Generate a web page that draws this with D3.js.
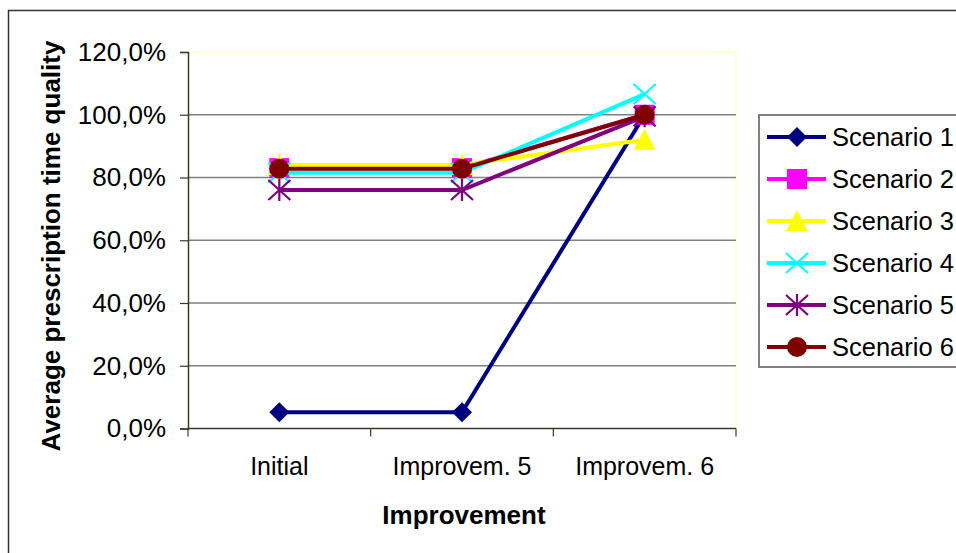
<!DOCTYPE html>
<html>
<head>
<meta charset="utf-8">
<script src="https://cdn.jsdelivr.net/npm/d3@7"></script>
<style>
  html, body { margin: 0; padding: 0; background: #fff; }
  svg { display: block; }
  text { font-family: "Liberation Sans", Arial, sans-serif; fill: #000; }
</style>
</head>
<body>
<svg id="chart" width="956" height="553"></svg>
<script>
// Categories along the x axis
const categories = ["Initial", "Improvem. 5", "Improvem. 6"];

// Series names and values (fractions, shown as percentages)
const seriesNames = ["Scenario 1", "Scenario 2", "Scenario 3", "Scenario 4", "Scenario 5", "Scenario 6"];
const scenario1 = [0.052, 0.052, 1.000];
const scenario2 = [0.830, 0.830, 1.000];
const scenario3 = [0.840, 0.840, 0.920];
const scenario4 = [0.815, 0.815, 1.066];
const scenario5 = [0.760, 0.760, 0.995];
const scenario6 = [0.828, 0.828, 1.000];
const seriesValues = [scenario1, scenario2, scenario3, scenario4, scenario5, scenario6];

// Y axis tick values
const yTicks = [0, 0.2, 0.4, 0.6, 0.8, 1.0, 1.2];

// Axis titles
const xTitle = "Improvement";
const yTitle = "Average prescription time quality";

// Series styling
const colors = ["#000080", "#ff00ff", "#ffff00", "#00ffff", "#800080", "#800000"];
const markers = ["diamond", "square", "triangle", "x", "star", "circle"];

const svg = d3.select("#chart");

// Outer chart frame
svg.append("rect")
  .attr("x", 8.5).attr("y", 10.5)
  .attr("width", 1000).attr("height", 600)
  .attr("fill", "#fff")
  .attr("stroke", "#333").attr("stroke-width", 1.5);

const plot = { left: 188, right: 736, top: 52, bottom: 428.5 };

const x = d3.scaleBand().domain(categories).range([plot.left, plot.right]).paddingInner(0).paddingOuter(0);
const y = d3.scaleLinear().domain([0, 1.2]).range([plot.bottom, plot.top]);

const locale = d3.formatLocale({ decimal: ",", thousands: ".", grouping: [3], currency: ["", " €"] });
const pct = locale.format(".1%");

// Plot area border (top and right edges are pale)
svg.append("path")
  .attr("d", `M${plot.left},${plot.top}H${plot.right}V${plot.bottom}`)
  .attr("fill", "none").attr("stroke", "#ffffc0").attr("stroke-width", 1.5);

// Horizontal gridlines
svg.append("g")
  .selectAll("line")
  .data(yTicks.filter(t => t > 0 && t < 1.2))
  .join("line")
  .attr("x1", plot.left).attr("x2", plot.right)
  .attr("y1", d => y(d)).attr("y2", d => y(d))
  .attr("stroke", "#808080").attr("stroke-width", 1.5);

// Y axis
const yAxis = svg.append("g")
  .attr("transform", `translate(${plot.left},0)`)
  .call(d3.axisLeft(y).tickValues(yTicks).tickFormat(pct).tickSize(8).tickPadding(14));
yAxis.select(".domain").attr("stroke", "#3a3a28").attr("stroke-width", 1.5);
yAxis.selectAll(".tick line").attr("stroke", "#3a3a28").attr("stroke-width", 1.2);
yAxis.selectAll(".tick text")
  .attr("font-size", 26).attr("font-family", "Liberation Sans, Arial, sans-serif").attr("fill", "#000");

// X axis: ticks at the category boundaries
const xAxis = svg.append("g")
  .attr("transform", `translate(0,${plot.bottom})`);
xAxis.append("line")
  .attr("x1", plot.left).attr("x2", plot.right)
  .attr("stroke", "#3a3a28").attr("stroke-width", 1.5);
const edges = categories.map(c => x(c)).concat([x(categories[categories.length - 1]) + x.bandwidth()]);
xAxis.selectAll("line.tick")
  .data(edges)
  .join("line").attr("class", "tick")
  .attr("x1", d => d).attr("x2", d => d)
  .attr("y1", 0).attr("y2", 8)
  .attr("stroke", "#3a3a28").attr("stroke-width", 1.2);
xAxis.selectAll("text")
  .data(categories)
  .join("text")
  .attr("x", d => x(d) + x.bandwidth() / 2)
  .attr("y", 46)
  .attr("text-anchor", "middle")
  .attr("font-size", 25)
  .text(d => d);

// Axis titles
svg.append("text")
  .attr("x", (plot.left + plot.right) / 2 + 2)
  .attr("y", 524)
  .attr("text-anchor", "middle")
  .attr("font-size", 26).attr("font-weight", "bold")
  .text(xTitle);

svg.append("text")
  .attr("transform", `translate(60,246) rotate(-90)`)
  .attr("text-anchor", "middle")
  .attr("font-size", 26).attr("font-weight", "bold")
  .text(yTitle);

// Marker drawing
function drawMarker(g, type, color) {
  switch (type) {
    case "diamond":
      g.append("path").attr("d", "M0,-10L10,0L0,10L-10,0Z").attr("fill", color);
      break;
    case "square":
      g.append("rect").attr("x", -10).attr("y", -10).attr("width", 20).attr("height", 20).attr("fill", color);
      break;
    case "triangle":
      g.append("path").attr("d", "M0,-11L11,10L-11,10Z").attr("fill", color);
      break;
    case "x":
      g.append("path").attr("d", "M-11,-10L11,10M-11,10L11,-10").attr("stroke", color).attr("stroke-width", 2.2).attr("fill", "none");
      break;
    case "star":
      g.append("path").attr("d", "M-11,-10L11,10M-11,10L11,-10M0,-11V11").attr("stroke", color).attr("stroke-width", 2.2).attr("fill", "none");
      break;
    case "circle":
      g.append("circle").attr("r", 10).attr("fill", color);
      break;
  }
}

// Series lines and markers
const line = d3.line()
  .x((d, i) => x(categories[i]) + x.bandwidth() / 2)
  .y(d => y(d));

seriesValues.forEach((vals, s) => {
  const g = svg.append("g");
  g.append("path")
    .attr("d", line(vals))
    .attr("fill", "none")
    .attr("stroke", colors[s])
    .attr("stroke-width", 4);
  vals.forEach((v, i) => {
    const m = g.append("g")
      .attr("transform", `translate(${x(categories[i]) + x.bandwidth() / 2},${y(v)})`);
    drawMarker(m, markers[s], colors[s]);
  });
});

// Legend
const legend = svg.append("g");
legend.append("rect")
  .attr("x", 759).attr("y", 115)
  .attr("width", 260).attr("height", 252)
  .attr("fill", "#fff")
  .attr("stroke", "#808080").attr("stroke-width", 2);

const legendY = d3.scalePoint().domain(seriesNames).range([137, 347]);
seriesNames.forEach((name, s) => {
  const cy = legendY(name);
  const item = legend.append("g");
  item.append("line")
    .attr("x1", 767).attr("x2", 826)
    .attr("y1", cy).attr("y2", cy)
    .attr("stroke", colors[s]).attr("stroke-width", 4);
  const m = item.append("g").attr("transform", `translate(797,${cy})`);
  drawMarker(m, markers[s], colors[s]);
  item.append("text")
    .attr("x", 832).attr("y", cy + 8.5)
    .attr("font-size", 25.5)
    .text(name);
});
</script>
</body>
</html>
